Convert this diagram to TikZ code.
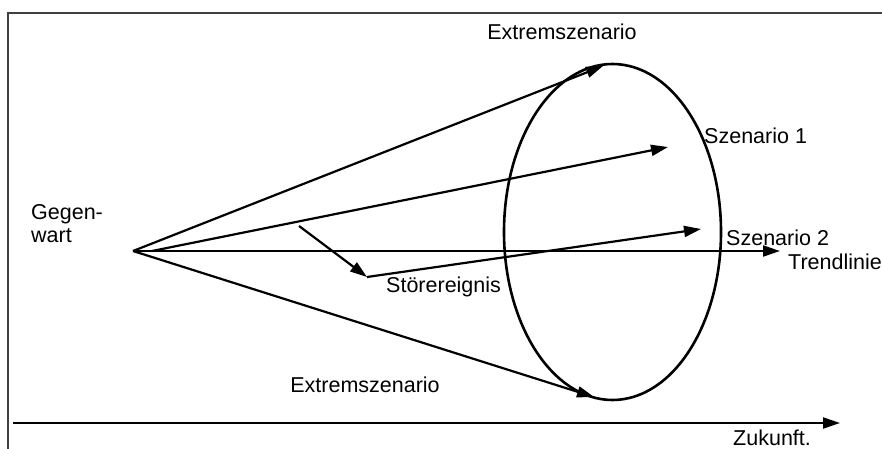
\documentclass[tikz,border=0pt]{standalone}
\usepackage{fontspec}
\setmainfont{Liberation Sans}
\usetikzlibrary{arrows.meta,shapes.geometric}
\begin{document}
\begin{tikzpicture}[x=1pt,y=-1pt,
  ln/.style={line width=2.2pt,black},
  arr/.style={ln,-{Triangle[length=17pt,width=11pt]}},
  lbl/.style={font=\fontsize{21.5pt}{23pt}\selectfont,inner sep=0pt}]
\useasboundingbox (0,0) rectangle (882,449);
\draw[line width=1.3pt,black!75] (8,449) -- (8,13) -- (882,13);
% points
\coordinate (O) at (133,251);
\coordinate (O2) at (152,251);
\coordinate (tTop) at (603,66);
\coordinate (tBot) at (594,397);
\coordinate (tS1) at (668,147);
\coordinate (tS2) at (701,229);
\coordinate (tTrend) at (780,251);
\coordinate (sStart) at (299,226);
\coordinate (sEvent) at (367,277);
\coordinate (axL) at (13,423);
\coordinate (axR) at (840,423);
% ellipse
\node[draw,ellipse,line width=2.6pt,minimum width=217pt,minimum height=336pt,inner sep=0pt] (ell) at (612.5,232) {};
% arrows
\draw[arr] (O) -- (tTop);
\draw[arr] (O) -- (tBot);
\draw[arr] (O2) -- (tS1);
\draw[arr] (O2) -- (tTrend);
\draw[ln] (O) -- (O2);
\draw[arr] (sStart) -- (sEvent);
\draw[arr] (sEvent) -- (tS2);
\draw[arr] (axL) -- (axR);
% labels
\node[lbl] (lTop) at (562,32) {Extremszenario};
\node[lbl] (lBot) at (365,385) {Extremszenario};
\node[lbl,anchor=west] (lS1) at (704,136) {Szenario 1};
\node[lbl,anchor=west] (lS2) at (726,238) {Szenario 2};
\node[lbl,anchor=west] (lTr) at (788,262) {Trendlinie};
\node[lbl,anchor=west] (lSt) at (386,287) {Störereignis};
\node[lbl,anchor=west,align=left] (lG) at (31,224) {Gegen-\\wart};
\node[lbl,anchor=west] (lZ) at (733,438) {Zukunft.};
\end{tikzpicture}
\end{document}
